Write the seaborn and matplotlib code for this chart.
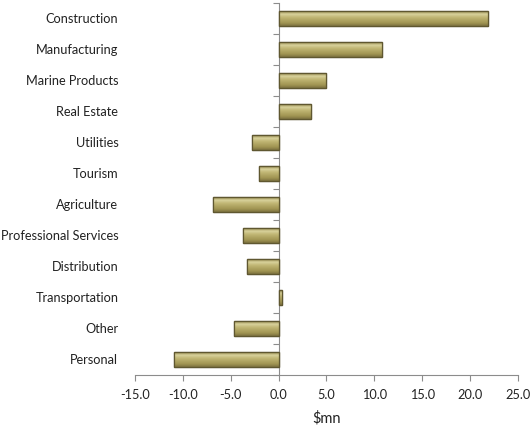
import numpy as np
import pandas as pd
import matplotlib
matplotlib.use("Agg")
import matplotlib.pyplot as plt
import seaborn as sns
from matplotlib.colors import LinearSegmentedColormap

categories = ["Construction", "Manufacturing", "Marine Products", "Real Estate",
              "Utilities", "Tourism", "Agriculture", "Professional Services",
              "Distribution", "Transportation", "Other", "Personal"]
values = [21.9, 10.8, 4.9, 3.4, -2.8, -2.0, -6.9, -3.7, -3.3, 0.35, -4.7, -10.9]
xticks = [-15, -10, -5, 0, 5, 10, 15, 20, 25]

sns.set_theme(style="white")
plt.rcParams['font.family'] = ['Lato', 'DejaVu Sans']

df = pd.DataFrame({"cat": categories, "val": values})

fig = plt.figure(figsize=(5.30, 4.28), dpi=100)
ax = fig.add_axes([0.2547, 0.124, 0.7226, 0.869])

sns.barplot(data=df, x="val", y="cat", orient="h", ax=ax, color="#b3a868",
            saturation=1, width=0.46, edgecolor="#5f5730", linewidth=0.9)

# gradient shading on bars (3D look)
grad = np.linspace(0, 1, 64).reshape(-1, 1)
shade = np.concatenate([grad, grad], axis=1)
cmap = LinearSegmentedColormap.from_list(
    "bar", ["#8f8448", "#d9d29c", "#c2b877", "#b1a663", "#a09452", "#7d7240"])
for p in ax.patches:
    x0, y0 = p.get_x(), p.get_y()
    w, h = p.get_width(), p.get_height()
    im = ax.imshow(shade, cmap=cmap, aspect="auto",
                   extent=[x0, x0 + w, y0 + h, y0], origin="upper",
                   zorder=p.get_zorder() + 0.1, interpolation="bilinear")
    im.set_clip_path(p)
    ec = plt.Rectangle((x0, y0), w, h, fill=False, edgecolor="#5f5730", linewidth=0.9,
                       zorder=p.get_zorder() + 0.2)
    ax.add_patch(ec)

xmin, xmax = -15, 25
ax.set_xlim(xmin, xmax)
ax.set_ylim(len(categories) - 0.5, -0.5)
ax.set_xticks(xticks)
ax.set_xticklabels([f"{t:.1f}" for t in xticks], fontsize=9.2, color="#222222")
ax.set_xlabel("$mn", fontsize=10.5, color="#222222", labelpad=7)
ax.set_ylabel("")
ax.tick_params(axis="x", direction="out", length=4, width=0.8, color="#8c8c8c", pad=6, bottom=True)
ax.tick_params(axis="y", length=0, pad=12, labelsize=9.2, labelcolor="#222222")

for s in ["top", "right", "left"]:
    ax.spines[s].set_visible(False)
ax.spines["bottom"].set_color("#8c8c8c")
ax.spines["bottom"].set_linewidth(0.8)

# vertical axis at zero with boundary ticks
loc = (0 - xmin) / (xmax - xmin)
sec = ax.secondary_yaxis(loc)
sec.set_yticks(np.arange(-0.5, len(categories), 1.0))
sec.set_yticklabels([])
sec.tick_params(axis="y", direction="out", length=4, width=0.8, color="#8c8c8c", left=True)
sec.spines["left"].set_color("#8c8c8c")
sec.spines["left"].set_linewidth(0.8)

fig.savefig("out.png", dpi=100)
